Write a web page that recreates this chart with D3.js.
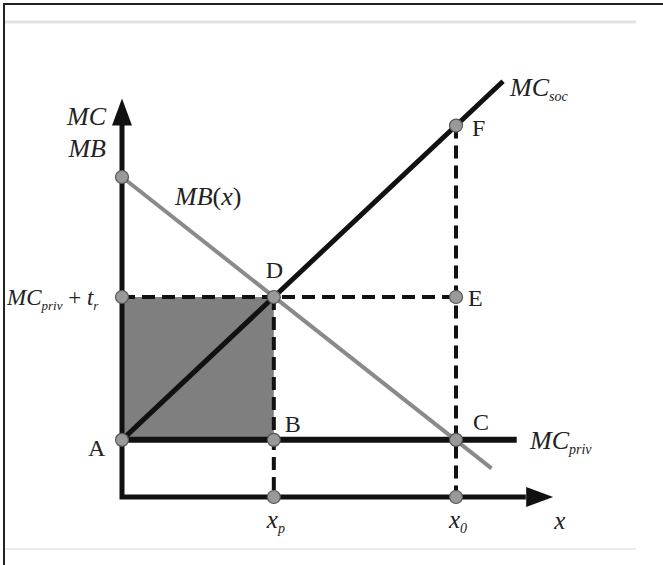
<!DOCTYPE html>
<html>
<head>
<meta charset="utf-8">
<script src="https://cdn.jsdelivr.net/npm/d3@7"></script>
<style>
  body { margin: 0; background: #fff; }
  svg text { font-family: "Liberation Serif", "Times New Roman", serif; }
</style>
</head>
<body>
<div id="vis"></div>
<script>
// economic units: x is quantity, y is cost / benefit
var xMax = 14.2;
var yMax = 13.95;

var mcPriv = [[0, 2], [13, 2]];
var mcSoc = [[0, 2], [12.55, 14.55]];
var mbLine = [[0, 11.2], [12.17, 1.0]];
var shadedBox = [[0, 2], [5, 7]];

var guideLines = [
  [[0, 7], [11, 7]],
  [[5, 7], [5, 0]],
  [[11, 13], [11, 0]]
];

var markerX = [0, 5, 11, 5, 11, 11, 0, 0, 5, 11];
var markerY = [2, 2, 2, 7, 7, 13, 11.2, 7, 0, 0];

var pointNames = ['A', 'B', 'C', 'D', 'E', 'F'];
var pointNameX = [0, 5, 11, 5, 11, 11];
var pointNameY = [2, 2, 2, 7, 7, 13];
var pointNameDx = [-34, 11, 17, -8, 12, 16];
var pointNameDy = [16, -8, -10, -19, 9, 10];

var width = 663;
var height = 565;

var x = d3.scaleLinear().domain([0, 11]).range([122, 456]);
var y = d3.scaleLinear().domain([0, 7]).range([497, 297]);

var svg = d3.select('#vis')
  .append('svg')
  .attr('width', width)
  .attr('height', height);

svg.append('rect').attr('width', width).attr('height', height).attr('fill', '#fff');

// light gray rules at top and bottom of the figure
svg.append('line')
  .attr('x1', 5).attr('x2', 636).attr('y1', 22).attr('y2', 22)
  .attr('stroke', '#e2e2e2').attr('stroke-width', 3);
svg.append('line')
  .attr('x1', 5).attr('x2', 636).attr('y1', 549).attr('y2', 549)
  .attr('stroke', '#ececec').attr('stroke-width', 2);

var line = d3.line()
  .x(function (d) { return x(d[0]); })
  .y(function (d) { return y(d[1]); });

// shaded area (tax revenue)
svg.append('rect')
  .attr('x', x(shadedBox[0][0]))
  .attr('y', y(shadedBox[1][1]))
  .attr('width', x(shadedBox[1][0]) - x(shadedBox[0][0]))
  .attr('height', y(shadedBox[0][1]) - y(shadedBox[1][1]))
  .attr('fill', '#7f7f7f');

// dashed guides
svg.selectAll('.guide')
  .data(guideLines)
  .enter()
  .append('path')
  .attr('class', 'guide')
  .attr('d', line)
  .attr('fill', 'none')
  .attr('stroke', '#111')
  .attr('stroke-width', 4)
  .attr('stroke-dasharray', '13,7');

// axes
svg.append('path')
  .attr('d', line([[0, yMax - 0.9], [0, 0], [xMax - 0.9, 0]]))
  .attr('fill', 'none')
  .attr('stroke', '#111')
  .attr('stroke-width', 5);

var yTop = y(yMax);
svg.append('path')
  .attr('d', 'M' + (x(0) - 10) + ',' + (yTop + 27) + 'L' + x(0) + ',' + yTop + 'L' + (x(0) + 10) + ',' + (yTop + 27) + 'Z')
  .attr('fill', '#111');
var xEnd = x(xMax);
svg.append('path')
  .attr('d', 'M' + (xEnd - 27) + ',' + (y(0) - 10) + 'L' + xEnd + ',' + y(0) + 'L' + (xEnd - 27) + ',' + (y(0) + 10) + 'Z')
  .attr('fill', '#111');

// curves
svg.append('path')
  .attr('d', line(mcPriv))
  .attr('stroke', '#111').attr('stroke-width', 6).attr('fill', 'none');
svg.append('path')
  .attr('d', line(mbLine))
  .attr('stroke', '#8a8a8a').attr('stroke-width', 4).attr('fill', 'none');
svg.append('path')
  .attr('d', line(mcSoc))
  .attr('stroke', '#111').attr('stroke-width', 5).attr('fill', 'none');

// markers
svg.selectAll('.marker')
  .data(markerX)
  .enter()
  .append('circle')
  .attr('class', 'marker')
  .attr('cx', function (d) { return x(d); })
  .attr('cy', function (d, i) { return y(markerY[i]); })
  .attr('r', 6.5)
  .attr('fill', '#999')
  .attr('stroke', '#555')
  .attr('stroke-width', 1.2);

// point names
svg.selectAll('.pname')
  .data(pointNames)
  .enter()
  .append('text')
  .attr('class', 'pname')
  .attr('x', function (d, i) { return x(pointNameX[i]) + pointNameDx[i]; })
  .attr('y', function (d, i) { return y(pointNameY[i]) + pointNameDy[i]; })
  .attr('font-size', 24)
  .attr('fill', '#222')
  .text(function (d) { return d; });

function subLabel(px, py, main, sub, anchor, size) {
  var t = svg.append('text')
    .attr('x', px).attr('y', py)
    .attr('font-size', size || 26)
    .attr('font-style', 'italic')
    .attr('fill', '#222')
    .attr('text-anchor', anchor || 'start');
  t.append('tspan').text(main);
  if (sub) {
    t.append('tspan').attr('dy', 5).attr('font-size', 14).text(sub);
  }
  return t;
}

subLabel(x(0) - 16, 125, 'MC', null, 'end');
subLabel(x(0) - 16, 157, 'MB', null, 'end');
subLabel(510, 96, 'MC', 'soc');
subLabel(530, 449, 'MC', 'priv');
subLabel(x(5) - 7, 528, 'x', 'p', 'start', 25);
subLabel(x(11) - 7, 528, 'x', '0', 'start', 25);
subLabel(x(xMax) + 1, 529, 'x', null, 'start', 25);

// MB(x) label
var mbt = svg.append('text')
  .attr('x', 175).attr('y', 205)
  .attr('font-size', 26)
  .attr('fill', '#222');
mbt.append('tspan').attr('font-style', 'italic').text('MB');
mbt.append('tspan').text('(');
mbt.append('tspan').attr('font-style', 'italic').text('x');
mbt.append('tspan').text(')');

// MC_priv + t_r label, squeezed in left of the axis
var tl = svg.append('text')
  .attr('x', 7).attr('y', y(7) + 8)
  .attr('font-size', 23)
  .attr('fill', '#222');
tl.append('tspan').attr('font-style', 'italic').text('MC');
tl.append('tspan').attr('font-style', 'italic').attr('dy', 5).attr('font-size', 13).text('priv');
tl.append('tspan').attr('dy', -5).text(' + ');
tl.append('tspan').attr('font-style', 'italic').text('t');
tl.append('tspan').attr('font-style', 'italic').attr('dy', 5).attr('font-size', 13).text('r');

// outer frame
svg.append('line')
  .attr('x1', 4).attr('x2', 4).attr('y1', 3).attr('y2', height)
  .attr('stroke', '#222').attr('stroke-width', 2);
svg.append('line')
  .attr('x1', 3).attr('x2', width).attr('y1', 4).attr('y2', 4)
  .attr('stroke', '#222').attr('stroke-width', 2);
</script>
</body>
</html>
